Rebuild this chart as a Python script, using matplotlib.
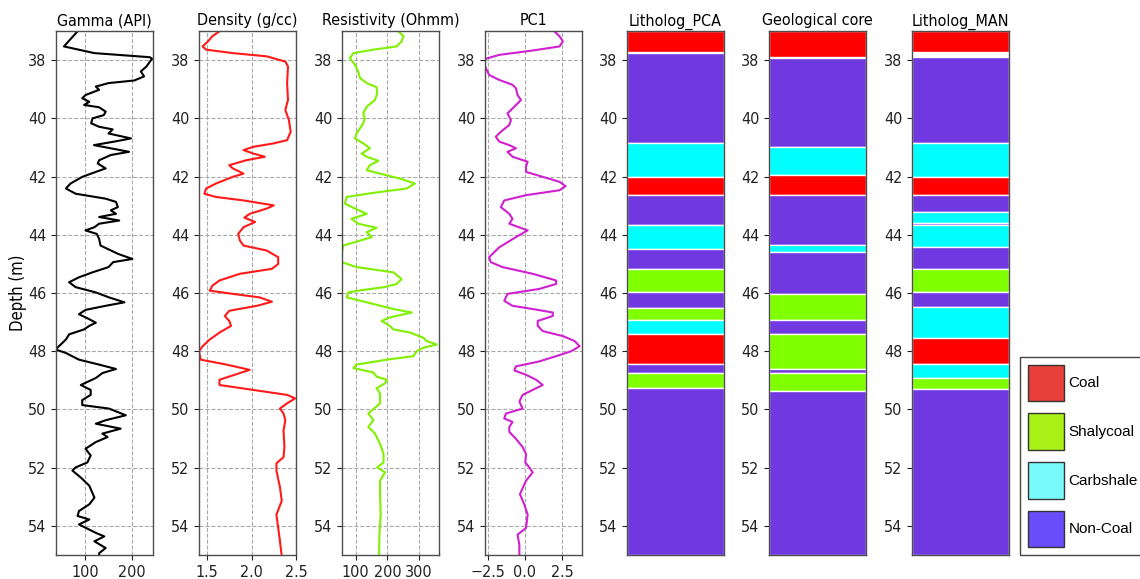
import matplotlib
matplotlib.use("Agg")
import matplotlib.pyplot as plt
from matplotlib.patches import Patch

# ---------------- data ----------------
gr_depth = [37.01, 37.53, 37.76, 37.90, 37.95, 38.22, 38.39, 38.56, 38.70, 38.79, 38.91, 39.02, 39.20, 39.31,
            39.43, 39.54, 39.62, 39.77, 39.89, 40.00, 40.17, 40.29, 40.38, 40.52, 40.69, 40.80, 40.92, 41.03,
            41.15, 41.26, 41.44, 41.55, 41.72, 41.84, 42.01, 42.24, 42.41, 42.59, 42.76, 42.87, 43.05, 43.16,
            43.28, 43.39, 43.51, 43.62, 43.74, 43.85, 43.97, 44.14, 44.37, 44.66, 44.83, 44.94, 45.11, 45.29,
            45.46, 45.63, 45.80, 45.98, 46.15, 46.32, 46.44, 46.58, 46.73, 46.90, 47.02, 47.13, 47.25, 47.42,
            47.60, 47.77, 47.94, 48.06, 48.29, 48.46, 48.61, 48.75, 48.92, 49.16, 49.33, 49.50, 49.68, 49.85,
            49.97, 50.20, 50.37, 50.49, 50.66, 50.83, 50.95, 51.12, 51.35, 51.58, 51.82, 51.99, 52.10, 52.34,
            52.62, 53.03, 53.26, 53.49, 53.66, 53.78, 53.95, 54.24, 54.36, 54.53, 54.76, 54.94, 55.05]
gr_value = [84, 55, 120, 238, 243, 231, 219, 226, 205, 150, 123, 130, 101, 94,
            109, 98, 130, 144, 140, 116, 113, 130, 159, 150, 198, 162, 119, 155,
            194, 155, 130, 127, 144, 123, 94, 69, 59, 80, 144, 166, 170, 155,
            166, 130, 173, 130, 120, 101, 125, 130, 133, 171, 201, 160, 150, 116,
            87, 66, 80, 123, 151, 184, 144, 101, 87, 109, 123, 109, 98, 66,
            59, 48, 37, 59, 87, 130, 166, 137, 123, 91, 112, 112, 94, 94,
            151, 187, 144, 123, 176, 137, 148, 123, 101, 112, 105, 80, 73, 91,
            109, 120, 109, 87, 84, 109, 87, 123, 141, 120, 144, 130, 130]

den_depth = [37.01, 37.18, 37.36, 37.53, 37.64, 37.76, 37.87, 38.05, 38.22, 38.79, 39.37, 39.71, 40.06, 40.46,
             40.75, 40.86, 40.98, 41.09, 41.21, 41.32, 41.44, 41.61, 41.72, 41.90, 42.01, 42.24, 42.41, 42.59,
             42.70, 42.82, 42.99, 43.10, 43.28, 43.41, 43.56, 43.74, 43.97, 44.20, 44.37, 44.54, 44.77, 45.00,
             45.17, 45.34, 45.57, 45.75, 45.92, 46.03, 46.15, 46.30, 46.44, 46.61, 46.79, 46.96, 47.13, 47.36,
             47.60, 47.83, 48.00, 48.29, 48.46, 48.64, 48.75, 48.98, 49.16, 49.33, 49.50, 49.62, 49.79, 49.97,
             50.14, 50.37, 50.72, 51.29, 51.64, 51.85, 52.10, 52.68, 53.14, 53.61, 54.07, 54.53, 55.05]
den_value = [1.64, 1.56, 1.51, 1.45, 1.49, 1.79, 2.17, 2.38, 2.41, 2.40, 2.41, 2.38, 2.42, 2.44,
             2.40, 2.25, 2.02, 1.91, 2.02, 2.15, 1.94, 1.75, 1.79, 1.91, 1.79, 1.60, 1.49, 1.47,
             1.60, 1.91, 2.25, 2.17, 1.98, 1.92, 2.04, 1.91, 1.85, 1.87, 1.91, 2.17, 2.30, 2.30,
             2.23, 1.87, 1.64, 1.56, 1.53, 1.79, 2.09, 2.23, 2.06, 1.75, 1.70, 1.75, 1.77, 1.64,
             1.53, 1.45, 1.41, 1.43, 1.72, 1.98, 1.87, 1.64, 1.64, 2.02, 2.40, 2.49, 2.40, 2.32,
             2.36, 2.38, 2.36, 2.37, 2.36, 2.28, 2.28, 2.32, 2.34, 2.28, 2.30, 2.32, 2.34]

res_depth = [37.01, 37.18, 37.36, 37.53, 37.64, 37.76, 37.93, 38.16, 38.39, 38.62, 38.79, 38.93, 39.14, 39.37,
             39.60, 39.83, 40.00, 40.17, 40.34, 40.52, 40.69, 40.86, 41.03, 41.21, 41.32, 41.46, 41.61, 41.78,
             41.90, 42.07, 42.24, 42.41, 42.56, 42.70, 42.93, 43.10, 43.28, 43.45, 43.62, 43.76, 43.91, 44.08,
             44.22, 44.37, 44.66, 44.94, 45.11, 45.29, 45.52, 45.69, 45.80, 45.90, 45.98, 46.15, 46.32, 46.55,
             46.67, 46.84, 46.96, 47.13, 47.25, 47.36, 47.54, 47.65, 47.77, 47.88, 48.00, 48.17, 48.29, 48.46,
             48.58, 48.73, 48.87, 48.98, 49.10, 49.27, 49.45, 49.79, 50.14, 50.37, 50.60, 50.83, 51.18, 51.53,
             51.82, 51.99, 52.16, 52.45, 52.91, 53.61, 54.30, 55.05]
res_value = [235, 251, 245, 229, 156, 93, 82, 98, 108, 114, 135, 166, 168, 161,
             135, 124, 129, 124, 114, 103, 98, 124, 145, 119, 135, 172, 145, 135,
             177, 240, 287, 261, 156, 72, 66, 98, 135, 87, 108, 166, 135, 151,
             108, 61, 56, 56, 103, 219, 245, 229, 190, 120, 77, 72, 135, 219,
             277, 208, 182, 208, 219, 272, 314, 324, 356, 314, 293, 282, 198, 103,
             93, 156, 166, 198, 193, 166, 177, 177, 140, 156, 140, 161, 177, 188,
             188, 168, 193, 177, 177, 179, 175, 174]

pc_depth = [37.01, 37.18, 37.36, 37.53, 37.67, 37.82, 37.97, 38.22, 38.51, 38.68, 38.85, 38.97, 39.20, 39.37,
            39.60, 39.83, 40.06, 40.23, 40.46, 40.63, 40.80, 40.92, 41.03, 41.15, 41.32, 41.49, 41.66, 41.84,
            42.01, 42.18, 42.33, 42.47, 42.64, 42.82, 43.05, 43.28, 43.45, 43.62, 43.85, 44.08, 44.43, 44.77,
            44.94, 45.11, 45.34, 45.57, 45.69, 45.86, 46.03, 46.27, 46.44, 46.55, 46.67, 46.79, 46.96, 47.13,
            47.31, 47.48, 47.65, 47.83, 48.00, 48.17, 48.35, 48.52, 48.66, 48.81, 48.98, 49.16, 49.33, 49.50,
            49.73, 49.97, 50.14, 50.31, 50.43, 50.60, 50.77, 51.01, 51.29, 51.53, 51.82, 51.99, 52.16, 52.45,
            52.91, 53.26, 53.61, 54.07, 54.30, 54.65, 55.05]
pc_value = [1.99, 2.33, 2.56, 2.33, 0.52, -1.74, -2.76, -2.69, -2.42, -1.74, -0.84, -0.61, -0.50, -0.27,
            -0.72, -1.18, -0.95, -1.06, -1.63, -1.97, -1.74, -1.06, -0.61, -1.18, -0.84, 0.18, 0.07, 0.07,
            1.20, 2.33, 2.74, 2.33, 0.07, -1.40, -1.63, -1.06, -0.84, -1.06, 0.18, -0.61, -1.74, -2.42,
            -2.31, -1.52, 0.52, 2.10, 2.10, 0.97, -1.18, -1.40, -0.84, 0.52, 1.88, 1.88, 0.86, 0.86,
            1.20, 2.56, 3.35, 3.69, 3.12, 2.10, 0.97, -0.61, -0.72, 0.07, 0.75, 1.20, 0.52, -0.16,
            -0.38, -0.16, -1.29, -1.40, -0.84, -1.06, -1.06, -0.61, -0.16, 0.07, 0.02, 0.29, 0.52, 0.07,
            -0.34, -0.05, 0.18, 0.07, -0.50, -0.38, -0.38]

# lithology intervals: tops, bottoms, classes
pca_top = [37.0, 37.77, 40.85, 42.01, 42.64, 43.66, 44.48, 45.19, 45.96, 46.53, 46.93, 47.41, 48.45, 48.75, 49.27]
pca_bot = [37.73, 40.85, 42.01, 42.64, 43.66, 44.48, 45.19, 45.96, 46.53, 46.93, 47.41, 48.45, 48.75, 49.27, 55.0]
pca_cls = ["Coal", "Non-Coal", "Carbshale", "Coal", "Non-Coal", "Carbshale", "Non-Coal", "Shalycoal",
           "Non-Coal", "Shalycoal", "Carbshale", "Coal", "Non-Coal", "Shalycoal", "Non-Coal"]

core_top = [37.0, 37.93, 40.98, 41.96, 42.64, 44.34, 44.59, 46.02, 46.93, 47.41, 48.62, 48.74, 49.36]
core_bot = [37.88, 40.98, 41.96, 42.64, 44.34, 44.59, 46.02, 46.93, 47.41, 48.62, 48.74, 49.36, 55.0]
core_cls = ["Coal", "Non-Coal", "Carbshale", "Coal", "Non-Coal", "Carbshale", "Non-Coal", "Shalycoal",
            "Non-Coal", "Shalycoal", "Non-Coal", "Shalycoal", "Non-Coal"]

man_top = [37.0, 37.88, 40.85, 42.01, 42.64, 43.23, 43.60, 43.68, 44.42, 45.17, 45.96, 46.49, 47.53, 48.45, 48.91, 49.31]
man_bot = [37.73, 40.85, 42.01, 42.64, 43.23, 43.60, 43.68, 44.42, 45.17, 45.96, 46.49, 47.53, 48.45, 48.91, 49.31, 55.0]
man_cls = ["Coal", "Non-Coal", "Carbshale", "Coal", "Non-Coal", "Carbshale", "Non-Coal", "Carbshale",
           "Non-Coal", "Shalycoal", "Non-Coal", "Carbshale", "Coal", "Carbshale", "Shalycoal", "Non-Coal"]

log_titles = ["Gamma (API)", "Density (g/cc)", "Resistivity (Ohmm)", "PC1"]
litho_titles = ["Litholog_PCA", "Geological core", "Litholog_MAN"]
legend_labels = ["Coal", "Shalycoal", "Carbshale", "Non-Coal"]

# ---------------- styles ----------------
litho_colors = {"Coal": "#FF0000", "Shalycoal": "#7FFF00", "Carbshale": "#00FFFF", "Non-Coal": "#7038E0"}
legend_colors = ["#E8413A", "#A8F015", "#78FAFA", "#6A4DFA"]
log_colors = ["black", "#FF1A1A", "#80F000", "#D020D0"]
log_xlims = [(38, 245), (1.41, 2.5), (57, 363), (-2.7, 3.85)]
log_xticks = [[100, 200], [1.5, 2.0, 2.5], [100, 200, 300], [-2.5, 0.0, 2.5]]

W, H = 1140, 579
fig = plt.figure(figsize=(W / 100, H / 100), dpi=100)
plt.rcParams["font.family"] = ["DejaVu Sans"]
plt.rcParams["font.stretch"] = "condensed"

lefts = [56, 199, 342, 485, 627, 769, 912]
ax_w = 97
top_px, bot_px = 31, 555
spine_col = "#4D4D4D"
FS = 11.5

axes = []
for i, lx in enumerate(lefts):
    ax = fig.add_axes([lx / W, 1 - bot_px / H, ax_w / W, (bot_px - top_px) / H])
    ax.set_ylim(55, 37)
    ax.set_yticks([38, 40, 42, 44, 46, 48, 50, 52, 54])
    for s in ax.spines.values():
        s.set_color(spine_col)
        s.set_linewidth(1.0)
    ax.tick_params(labelsize=FS, colors="#222222", length=3.5, width=0.8)
    axes.append(ax)

series = [(gr_value, gr_depth), (den_value, den_depth), (res_value, res_depth), (pc_value, pc_depth)]
for i, (vals, dep) in enumerate(series):
    ax = axes[i]
    ax.plot(vals, dep, color=log_colors[i], lw=1.5)
    ax.set_xlim(*log_xlims[i])
    ax.set_xticks(log_xticks[i])
    ax.grid(True, ls="--", color="#AAAAAA", lw=0.8)
    ax.set_title(log_titles[i], fontsize=FS, pad=4)

axes[0].set_ylabel("Depth (m)", fontsize=FS + 0.5, labelpad=0.5)

for j, (tops, bots, cls) in enumerate([(pca_top, pca_bot, pca_cls),
                                       (core_top, core_bot, core_cls),
                                       (man_top, man_bot, man_cls)]):
    ax = axes[4 + j]
    ax.set_xlim(0, 1)
    ax.set_xticks([])
    for t, b, c in zip(tops, bots, cls):
        ax.axhspan(t, b, xmin=0, xmax=1, facecolor=litho_colors[c], edgecolor="white", lw=1.0)
    ax.set_title(litho_titles[j], fontsize=FS, pad=4)
    for s in ax.spines.values():
        s.set_zorder(5)

handles = [Patch(facecolor=c, edgecolor="#333333", lw=1.0) for c in legend_colors]
leg = fig.legend(handles, legend_labels, loc="lower left",
                 bbox_to_anchor=(1020 / W, 1 - 555 / H), borderaxespad=0,
                 prop={"family": "Liberation Sans", "size": 11, "stretch": "normal"},
                 handlelength=2.4, handleheight=3.3, labelspacing=0.8,
                 handletextpad=0.26, borderpad=0.5, fancybox=False, framealpha=1)
leg.get_frame().set_edgecolor("#444444")
leg.get_frame().set_linewidth(1.0)

fig.savefig("out.png", dpi=100)
